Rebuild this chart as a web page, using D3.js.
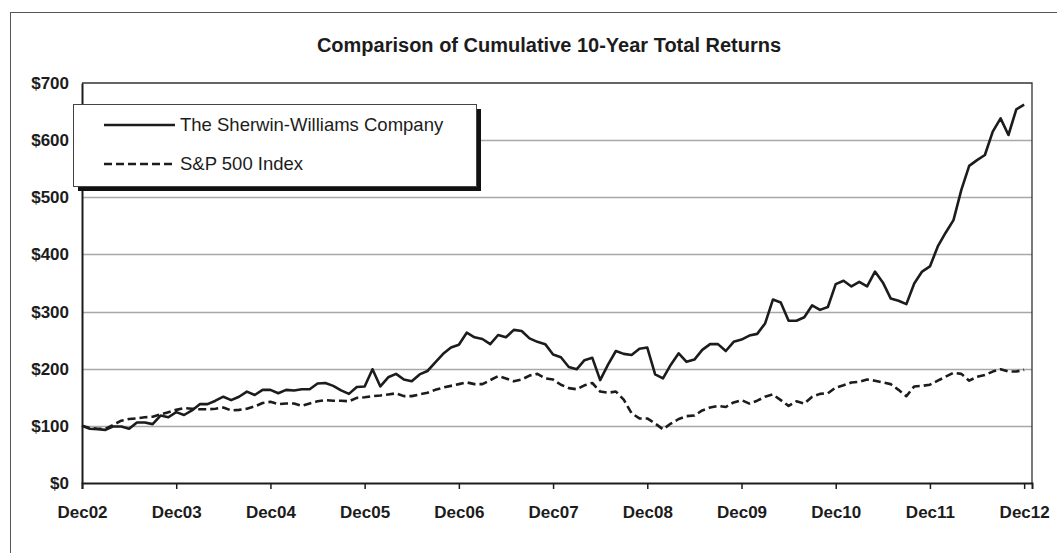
<!DOCTYPE html>
<html>
<head>
<meta charset="utf-8">
<script src="https://cdn.jsdelivr.net/npm/d3@7"></script>
<style>
  body { margin: 0; background: #fff; }
  svg { display: block; font-family: "Liberation Sans", Arial, sans-serif; }
</style>
</head>
<body>
<div id="container"></div>
<script>
/* DATA */
const tickLabels = ["Dec02", "Dec03", "Dec04", "Dec05", "Dec06", "Dec07", "Dec08", "Dec09", "Dec10", "Dec11", "Dec12"]
const yTicks = [0, 100, 200, 300, 400, 500, 600, 700]

// monthly cumulative value of $100 invested, Dec02 .. Dec12
const sherwin = [
  100, 95, 94, 93, 99, 99, 95, 106, 106, 103, 118, 115,
  124, 119, 127, 138, 138, 144, 151, 145, 151, 160, 154, 163,
  163, 157, 163, 162, 164, 164, 174, 175, 170, 162, 156, 168,
  169, 199, 169, 185, 191, 181, 178, 190, 196, 211, 226, 237,
  242, 263, 255, 252, 243, 259, 255, 268, 266, 253, 247, 243,
  225, 220, 203, 199, 215, 219, 180, 207, 231, 226, 224, 235,
  237, 190, 183, 207, 227, 212, 216, 233, 243, 243, 231, 247,
  251, 258, 261, 279, 321, 316, 284, 284, 290, 311, 303, 308,
  348, 354, 344, 352, 344, 370, 351, 323, 319, 313, 349, 370,
  379, 414, 438, 460, 513, 555, 565, 574, 615, 638, 609, 654,
  662
]
const sp500 = [
  100, 96, 95, 95, 102, 109, 112, 113, 115, 116, 120, 124,
  128, 131, 130, 129, 129, 130, 132, 127, 128, 130, 134, 140,
  142, 138, 139, 139, 135, 139, 143, 145, 144, 144, 143, 149,
  150, 152, 153, 155, 157, 152, 152, 155, 158, 163, 167, 170,
  173, 176, 173, 173, 180, 187, 183, 178, 181, 188, 191, 183,
  181, 172, 166, 164, 171, 175, 160, 158, 160, 146, 122, 113,
  113, 104, 94, 104, 112, 117, 118, 127, 132, 135, 133, 141,
  145, 139, 144, 151, 155, 145, 135, 143, 139, 151, 156, 157,
  167, 171, 176, 177, 181, 179, 176, 173, 163, 152, 169, 170,
  172, 179, 186, 193, 191, 179, 186, 189, 195, 199, 195, 195,
  198
]
const seriesNames = ["The Sherwin-Williams Company", "S&P 500 Index"]

/* CONSTANTS */
const width = 1057
const height = 553
const margin = { top: 83, bottom: 70, left: 82, right: 25 }
const ink = "#1c1c1c"

/* SCALES */
const xScale = d3.scaleLinear()
  .domain([0, 121])
  .range([margin.left, width - margin.right])

const yScale = d3.scaleLinear()
  .domain([0, 700])
  .range([height - margin.bottom, margin.top])

const svg = d3.select("#container")
  .append("svg")
  .attr("width", width)
  .attr("height", height)

// outer chart frame (runs off the picture right and bottom)
svg.append("rect")
  .attr("x", 10.5).attr("y", 12.5)
  .attr("width", 1100).attr("height", 600)
  .attr("fill", "none")
  .attr("stroke", "#555")
  .attr("stroke-width", 1)

// title
svg.append("text")
  .attr("x", 549)
  .attr("y", 52)
  .attr("text-anchor", "middle")
  .attr("font-size", 20)
  .attr("font-weight", "bold")
  .attr("fill", ink)
  .text("Comparison of Cumulative 10-Year Total Returns")

// gridlines
svg.append("g")
  .selectAll("line")
  .data(yTicks.filter(d => d > 0 && d < 700))
  .join("line")
  .attr("x1", margin.left)
  .attr("x2", width - margin.right)
  .attr("y1", d => Math.round(yScale(d)) + 0.5)
  .attr("y2", d => Math.round(yScale(d)) + 0.5)
  .attr("stroke", "#a8a8a8")
  .attr("stroke-width", 1.3)

// top and right border of the plot
svg.append("path")
  .attr("d", `M${margin.left},${yScale(700)}H${width - margin.right}V${yScale(0)}`)
  .attr("fill", "none")
  .attr("stroke", "#333")
  .attr("stroke-width", 1.3)

// axes
const xAxis = d3.axisBottom(xScale)
  .tickValues(d3.range(0, 121, 12))
  .tickFormat((d, i) => tickLabels[i])
  .tickSize(6)
  .tickPadding(17)

svg.append("g")
  .attr("transform", `translate(0,${yScale(0)})`)
  .call(xAxis)
  .call(g => g.select(".domain").attr("stroke", ink).attr("stroke-width", 2))
  .call(g => g.selectAll(".tick line").attr("stroke", ink).attr("stroke-width", 1.5))
  .call(g => g.selectAll("text")
    .attr("font-size", 17).attr("font-weight", "bold")
    .attr("font-family", "Liberation Sans, Arial, sans-serif").attr("fill", ink))

const yAxis = d3.axisLeft(yScale)
  .tickValues(yTicks)
  .tickFormat(d => "$" + d)
  .tickSize(0)
  .tickPadding(13)

svg.append("g")
  .attr("transform", `translate(${margin.left},0)`)
  .call(yAxis)
  .call(g => g.select(".domain").attr("stroke", ink).attr("stroke-width", 2))
  .call(g => g.selectAll("text")
    .attr("font-size", 17).attr("font-weight", "bold")
    .attr("font-family", "Liberation Sans, Arial, sans-serif").attr("fill", ink))

// lines
const line = d3.line()
  .x((d, i) => xScale(i))
  .y(d => yScale(d))

svg.append("path")
  .datum(sp500)
  .attr("d", line)
  .attr("fill", "none")
  .attr("stroke", ink)
  .attr("stroke-width", 2.6)
  .attr("stroke-dasharray", "8,4")
  .attr("stroke-linejoin", "round")

svg.append("path")
  .datum(sherwin)
  .attr("d", line)
  .attr("fill", "none")
  .attr("stroke", ink)
  .attr("stroke-width", 2.6)
  .attr("stroke-linejoin", "round")

// legend with drop shadow
const legend = svg.append("g")
legend.append("rect")
  .attr("x", 78).attr("y", 109)
  .attr("width", 403).attr("height", 82)
  .attr("fill", "#111")
legend.append("rect")
  .attr("x", 73.5).attr("y", 104.5)
  .attr("width", 403).attr("height", 82)
  .attr("fill", "#fff")
  .attr("stroke", "#444")
  .attr("stroke-width", 1)

const legendRows = legend.selectAll(".row")
  .data(seriesNames)
  .join("g")
  .attr("class", "row")
  .attr("transform", (d, i) => `translate(0,${125 + i * 39})`)

legendRows.append("line")
  .attr("x1", 104).attr("x2", 175)
  .attr("stroke", ink)
  .attr("stroke-width", 2.6)
  .attr("stroke-dasharray", (d, i) => i === 1 ? "8,4" : null)

legendRows.append("text")
  .attr("x", 180)
  .attr("dy", "0.35em")
  .attr("font-size", 18.5)
  .attr("fill", ink)
  .text(d => d)
</script>
</body>
</html>
